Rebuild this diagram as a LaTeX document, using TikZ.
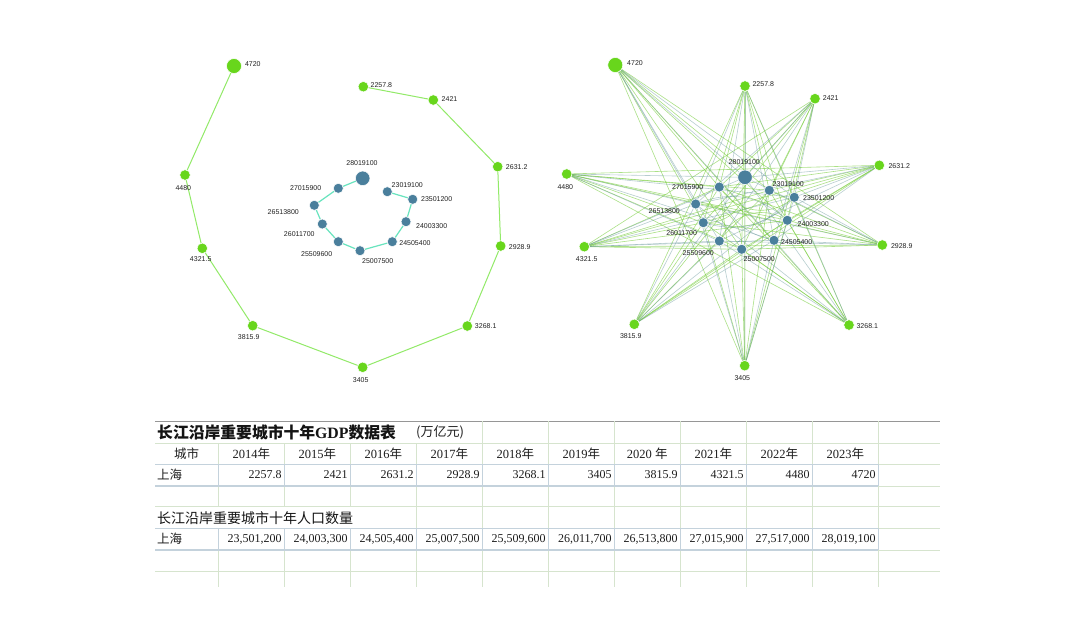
\documentclass[tikz,border=0pt]{standalone}
\usepackage{fontspec}
\setmainfont{Liberation Serif}
\setsansfont{Liberation Sans}
\newfontfamily\cjk{Noto Sans CJK SC}
\usetikzlibrary{backgrounds}
\begin{document}
\begin{tikzpicture}[x=1pt, y=-1pt]
		\tikzstyle{every node}=[font=\sffamily\fontsize{7pt}{8pt}\selectfont, text={rgb,255:red,34; green,34; blue,34}, inner sep=0pt]
		\tikzstyle{gdp}=[circle, fill={rgb,255:red,104; green,214; blue,28}, draw=white, line width=0.5pt, minimum size=10.5pt]
		\tikzstyle{gdpbig}=[gdp, minimum size=15pt]
		\tikzstyle{pop}=[circle, fill={rgb,255:red,74; green,127; blue,156}, draw=white, line width=0.5pt, minimum size=10pt]
		\tikzstyle{popbig}=[pop, minimum size=14.5pt]
		\tikzstyle{ringgdp}=[color={rgb,255:red,146; green,234; blue,104}, line width=1pt]
		\tikzstyle{ringpop}=[color={rgb,255:red,104; green,228; blue,190}, line width=1.2pt]
		\tikzstyle{linkgreen}=[color={rgb,255:red,116; green,204; blue,56}, draw opacity=0.6, line width=0.6pt]
		\tikzstyle{linkblue}=[color={rgb,255:red,96; green,146; blue,150}, draw opacity=0.45, line width=0.6pt]
		\tikzstyle{gridlight}=[color={rgb,255:red,214; green,228; blue,206}, line width=1pt]
		\tikzstyle{gridblue}=[color={rgb,255:red,196; green,210; blue,220}, line width=1.6pt]
		\tikzstyle{hcell}=[font=\rmfamily\fontsize{12.5pt}{14pt}\selectfont, text={rgb,255:red,30; green,30; blue,30}]
		\tikzstyle{vcell}=[font=\rmfamily\fontsize{12pt}{14pt}\selectfont, text={rgb,255:red,30; green,30; blue,30}, anchor=east]
		
		\useasboundingbox (0,0) rectangle (1080,637);
		
		% left graph: GDP ring and population ring
		\node[gdp] (o1) at (363.3,86.7) {};
		\node[gdp] (o2) at (433.3,100) {};
		\node[gdp] (o3) at (497.7,166.7) {};
		\node[gdp] (o4) at (500.7,246) {};
		\node[gdp] (o5) at (467.3,326) {};
		\node[gdp] (o6) at (362.7,367.3) {};
		\node[gdp] (o7) at (252.7,325.7) {};
		\node[gdp] (o8) at (202.3,248.3) {};
		\node[gdp] (o9) at (185,175) {};
		\node[gdpbig] (o10) at (234,66) {};
		
		\node[pop] (i1) at (387.3,191.7) {};
		\node[pop] (i2) at (412.7,199.3) {};
		\node[pop] (i3) at (406,221.7) {};
		\node[pop] (i4) at (392.3,241.7) {};
		\node[pop] (i5) at (360,250.7) {};
		\node[pop] (i6) at (338.3,241.7) {};
		\node[pop] (i7) at (322.3,224) {};
		\node[pop] (i8) at (314.3,205.3) {};
		\node[pop] (i9) at (338.3,188.3) {};
		\node[popbig] (i10) at (362.7,178.3) {};
		
		\draw[ringgdp] (o1) -- (o2) -- (o3) -- (o4) -- (o5) -- (o6) -- (o7) -- (o8) -- (o9) -- (o10);
		\draw[ringpop] (i1) -- (i2) -- (i3) -- (i4) -- (i5) -- (i6) -- (i7) -- (i8) -- (i9) -- (i10);
		
		\node (lo1) at (381.4,85) {2257.8};
		\node (lo2) at (449.5,99.5) {2421};
		\node (lo3) at (516.7,167) {2631.2};
		\node (lo4) at (519.7,247) {2928.9};
		\node (lo5) at (485.7,326) {3268.1};
		\node (lo6) at (360.7,380) {3405};
		\node (lo7) at (248.7,337.3) {3815.9};
		\node (lo8) at (200.7,259) {4321.5};
		\node (lo9) at (183.3,188.3) {4480};
		\node (lo10) at (252.8,64.3) {4720};
		
		\node (li1) at (407.3,185.3) {23019100};
		\node (li2) at (436.7,199.3) {23501200};
		\node (li3) at (431.7,225.7) {24003300};
		\node (li4) at (415,243.3) {24505400};
		\node (li5) at (377.7,260.7) {25007500};
		\node (li6) at (316.7,254.3) {25509600};
		\node (li7) at (299.3,234) {26011700};
		\node (li8) at (283.3,212.3) {26513800};
		\node (li9) at (305.7,188.3) {27015900};
		\node (li10) at (362,163.3) {28019100};
		
		% right graph: everything linked
		\node[gdp] (p1) at (745,86) {};
		\node[gdp] (p2) at (815,98.7) {};
		\node[gdp] (p3) at (879.3,165.3) {};
		\node[gdp] (p4) at (882.3,245) {};
		\node[gdp] (p5) at (849,325) {};
		\node[gdp] (p6) at (744.7,365.7) {};
		\node[gdp] (p7) at (634.3,324.3) {};
		\node[gdp] (p8) at (584.3,246.7) {};
		\node[gdp] (p9) at (566.7,174) {};
		\node[gdpbig] (p10) at (615.3,65) {};
		
		\node[pop] (q1) at (769.3,190.3) {};
		\node[pop] (q2) at (794.3,197.3) {};
		\node[pop] (q3) at (787.3,220.3) {};
		\node[pop] (q4) at (774,240.3) {};
		\node[pop] (q5) at (741.7,249.3) {};
		\node[pop] (q6) at (719.3,241) {};
		\node[pop] (q7) at (703.3,222.7) {};
		\node[pop] (q8) at (695.7,204) {};
		\node[pop] (q9) at (719.3,187) {};
		\node[popbig] (q10) at (745,177.3) {};
		
		\begin{pgfonlayer}{background}
			\fill[white] (0,0) rectangle (1080,637);
			\foreach \a in {1,...,10} {
				\foreach \b in {1,3,...,9} \draw[linkgreen] (p\a) -- (q\b);
				\foreach \b in {2,4,...,10} \draw[linkblue] (p\a) -- (q\b);
				\pgfmathtruncatemacro\d{mod(\a+3,10)+1}
				\draw[linkgreen] (p\a) -- (p\d);
			}
			\foreach \a in {1,...,5} {
				\pgfmathtruncatemacro\b{\a+5}
				\draw[linkgreen] (p\a) -- (p\b);
			}
			\foreach \a/\b in {1/4,3/6,5/8,7/10,9/2} \draw[linkgreen] (q\a) to[bend right=45] (q\b);
			\foreach \a/\b in {2/7,4/9,8/3} \draw[linkblue] (q\a) to[bend left=30] (q\b);
		\end{pgfonlayer}
		
		\node (lp1) at (763.3,83.7) {2257.8};
		\node (lp2) at (830.7,97.7) {2421};
		\node (lp3) at (899.3,165.7) {2631.2};
		\node (lp4) at (901.7,245.7) {2928.9};
		\node (lp5) at (867.3,325.7) {3268.1};
		\node (lp6) at (742.3,378.3) {3405};
		\node (lp7) at (630.7,336) {3815.9};
		\node (lp8) at (586.7,259) {4321.5};
		\node (lp9) at (565.3,186.7) {4480};
		\node (lp10) at (635,63.3) {4720};
		
		\node (lq1) at (788.3,184.3) {23019100};
		\node (lq2) at (818.7,198) {23501200};
		\node (lq3) at (813.3,224) {24003300};
		\node (lq4) at (796.7,242.3) {24505400};
		\node (lq5) at (759.3,259.3) {25007500};
		\node (lq6) at (698.3,253.3) {25509600};
		\node (lq7) at (681.7,232.7) {26011700};
		\node (lq8) at (664.3,211.3) {26513800};
		\node (lq9) at (687.7,186.7) {27015900};
		\node (lq10) at (744.3,162) {28019100};
		
		% table grid
		\foreach \y in {443.3,464.3,486,506.7,528.3,550,571} \draw[gridlight] (155,\y) -- (940,\y);
		\draw[color={rgb,255:red,150; green,150; blue,150}, line width=1pt] (155,421) -- (940,421);
		\foreach \k in {4,...,10} \draw[gridlight] (218.3+66*\k,421) -- (218.3+66*\k,443.3);
		\foreach \k in {0,...,10} \draw[gridlight] (218.3+66*\k,443.3) -- (218.3+66*\k,506.7);
		\foreach \k in {3,...,10} \draw[gridlight] (218.3+66*\k,506.7) -- (218.3+66*\k,528.3);
		\foreach \k in {0,...,10} \draw[gridlight] (218.3+66*\k,528.3) -- (218.3+66*\k,587);
		\foreach \y in {464.3,528.3} {
			\draw[gridblue] (155,\y) -- (878.3,\y);
			\draw[gridblue] (155,\y+21.7) -- (878.3,\y+21.7);
			\foreach \k in {0,...,10} \draw[gridblue] (218.3+66*\k,\y) -- (218.3+66*\k,\y+21.7);
		}
		
		% table text
		\node[anchor=west, font=\fontsize{15.8pt}{18pt}\selectfont\cjk\bfseries, text={rgb,255:red,20; green,20; blue,20}] (gdptitle) at (157,432) {长江沿岸重要城市十年{\rmfamily GDP}数据表};
		\node[anchor=west, font=\fontsize{13pt}{15pt}\selectfont\cjk, text={rgb,255:red,30; green,30; blue,30}] (gdpunit) at (416,432) {(万亿元)};
		\node[hcell] (hcity) at (186.5,454) {\cjk 城市};
		\node[hcell] (h2014) at (251.3,454) {2014\cjk 年};
		\node[hcell] (h2015) at (317.3,454) {2015\cjk 年};
		\node[hcell] (h2016) at (383.3,454) {2016\cjk 年};
		\node[hcell] (h2017) at (449.3,454) {2017\cjk 年};
		\node[hcell] (h2018) at (515.3,454) {2018\cjk 年};
		\node[hcell] (h2019) at (581.3,454) {2019\cjk 年};
		\node[hcell] (h2020) at (647.3,454) {2020 \cjk 年};
		\node[hcell] (h2021) at (713.3,454) {2021\cjk 年};
		\node[hcell] (h2022) at (779.3,454) {2022\cjk 年};
		\node[hcell] (h2023) at (845.3,454) {2023\cjk 年};
		
		\node[hcell, anchor=west] (gcity) at (157,475) {\cjk 上海};
		\node[vcell] (g2014) at (281.8,475) {2257.8};
		\node[vcell] (g2015) at (347.8,475) {2421};
		\node[vcell] (g2016) at (413.8,475) {2631.2};
		\node[vcell] (g2017) at (479.8,475) {2928.9};
		\node[vcell] (g2018) at (545.8,475) {3268.1};
		\node[vcell] (g2019) at (611.8,475) {3405};
		\node[vcell] (g2020) at (677.8,475) {3815.9};
		\node[vcell] (g2021) at (743.8,475) {4321.5};
		\node[vcell] (g2022) at (809.8,475) {4480};
		\node[vcell] (g2023) at (875.8,475) {4720};
		
		\node[anchor=west, font=\fontsize{14pt}{16pt}\selectfont\cjk, text={rgb,255:red,20; green,20; blue,20}] (poptitle) at (157,518) {长江沿岸重要城市十年人口数量};
		\node[hcell, anchor=west] (pcity) at (157,539) {\cjk 上海};
		\node[vcell] (n2014) at (281.8,539) {23,501,200};
		\node[vcell] (n2015) at (347.8,539) {24,003,300};
		\node[vcell] (n2016) at (413.8,539) {24,505,400};
		\node[vcell] (n2017) at (479.8,539) {25,007,500};
		\node[vcell] (n2018) at (545.8,539) {25,509,600};
		\node[vcell] (n2019) at (611.8,539) {26,011,700};
		\node[vcell] (n2020) at (677.8,539) {26,513,800};
		\node[vcell] (n2021) at (743.8,539) {27,015,900};
		\node[vcell] (n2022) at (809.8,539) {27,517,000};
		\node[vcell] (n2023) at (875.8,539) {28,019,100};
		
	\end{tikzpicture}
\end{document}
